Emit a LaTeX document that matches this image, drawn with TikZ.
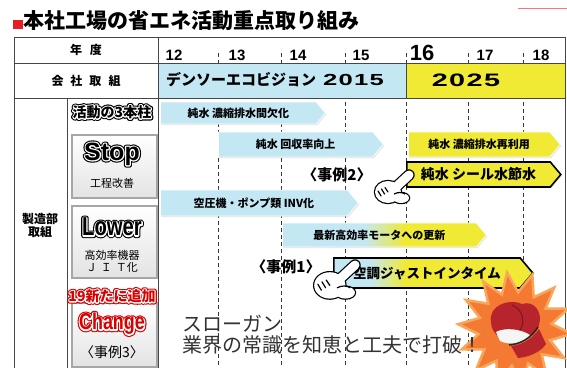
\documentclass[tikz,border=0pt]{standalone}
\usepackage{fontspec}
\setmainfont{Noto Sans CJK JP}
\newfontfamily\latin{Liberation Sans}
\newfontfamily\cond{Liberation Sans}[FakeStretch=0.78]
\newfontfamily\wide{Liberation Sans}[FakeStretch=1.6,LetterSpace=8]
\usetikzlibrary{shapes.symbols,shapes.geometric,shadows,calc}

\definecolor{lb}{RGB}{196,231,244}
\definecolor{yel}{RGB}{240,234,52}
\definecolor{framec}{RGB}{70,70,70}
\definecolor{dashc}{RGB}{55,55,55}
\definecolor{burst}{RGB}{244,122,52}
\definecolor{burstedge}{RGB}{249,165,90}
\definecolor{glove}{RGB}{184,36,44}
\definecolor{titred}{RGB}{228,30,36}
\definecolor{slog}{RGB}{50,50,50}

% blue-to-yellow fills for the two mixed bars
\pgfdeclarehorizontalshading{byA}{100bp}{color(0bp)=(lb); color(45bp)=(lb); color(55bp)=(yel); color(100bp)=(yel)}
\pgfdeclarehorizontalshading{byB}{100bp}{color(0bp)=(lb); color(34bp)=(lb); color(43bp)=(yel); color(100bp)=(yel)}

\tikzset{
  bar/.style={signal, signal to=east, signal pointer angle=100, anchor=west,
    inner sep=0pt, font=\fontsize{11}{11}\selectfont\bfseries,
    drop shadow={opacity=0.25, shadow xshift=1pt, shadow yshift=-1pt}},
  bluebar/.style={bar, fill=lb, draw=white, line width=0.8pt},
  yelbar/.style={bar, fill=yel, draw=white, line width=0.8pt},
  keybar/.style={bar, draw=black, line width=1.6pt, font=\fontsize{14}{14}\selectfont\bfseries},
  btn/.style={draw=gray!70, line width=1.6pt, top color=white, bottom color=gray!22,
    drop shadow={opacity=0.3, shadow xshift=1pt, shadow yshift=-1pt}},
  yearlbl/.style={anchor=base, font=\latin\bfseries\fontsize{15}{15}\selectfont},
  yearline/.style={dashc, dashed, dash pattern=on 4pt off 3pt, line width=0.7pt},
  frameline/.style={framec, line width=1pt},
  caselbl/.style={font=\bfseries\fontsize{15}{15}\selectfont},
  slogantext/.style={anchor=west, inner sep=0pt, font=\fontsize{20}{20}\selectfont, text=slog},
}

% stroked glyph outlines (fill + stroke rendering mode)
\newcommand\strokedtext[2]{\special{pdf:literal direct q 2 Tr #1 w 1 j}#2\special{pdf:literal direct Q}}

% text with a white ring and a coloured outer ring
\newcommand\ringtext[6]{%
  \node[font=#3, text=#5, inner sep=0pt] at (#2) {\strokedtext{4.6}{#6}};
  \node[font=#3, text=white, inner sep=0pt] at (#2) {\strokedtext{2.4}{#6}};
  \node[font=#3, text=#4, inner sep=0pt] (#1) at (#2) {#6};
}

% pointing glove, drawn with its top-left corner at #1
\newcommand\pointer[2]{%
  \begin{scope}[shift={(#1)}, scale=#2]
    \draw[black, line width=2.4pt, fill=white] (14,22) ellipse[x radius=13, y radius=11];
    \draw[black, line width=11.4pt, line cap=round] (22,17) -- (35,5);
    \draw[black, line width=2.4pt, fill=white] (27,28) ellipse[x radius=8, y radius=5];
    \fill[white] (14,22) ellipse[x radius=13, y radius=11];
    \draw[white, line width=9pt, line cap=round] (22,17) -- (35,5);
    \fill[white] (27,28) ellipse[x radius=8, y radius=5];
    \draw[black, line width=1.2pt] (20,24) .. controls (24,22) and (28,22) .. (31,24);
    \draw[black, line width=1.2pt, line cap=round] (4,21) -- (7,26) (7.5,19) -- (10.5,24) (11,17.5) -- (14,22);
  \end{scope}
}

\begin{document}
\begin{tikzpicture}[x=1pt, y=-1pt]
\useasboundingbox (0,0) rectangle (567,367);
\fill[white] (0,0) rectangle (567,367);

% title
\fill[titred] (13,19.5) rectangle (22.5,29);
\node[anchor=west, inner sep=0pt, font=\bfseries\fontsize{21}{21}\selectfont] (title) at (23,21)
  {本社工場の省エネ活動重点取り組み};
\draw[titred!60, line width=0.8pt] (518,8) -- (567,8);

% year grid lines
\foreach \gx in {218,281,345,406,468,523}
  \draw[yearline] (\gx,53) -- (\gx,367);

% company row
\fill[lb] (158,63) rectangle (406,98);
\fill[yel] (406,63) rectangle (565,98);

% table frame
\draw[frameline] (14,370) -- (14,37) -- (565,37) -- (565,370);
\draw[frameline] (14,63) -- (565,63);
\draw[frameline] (14,98) -- (565,98);
\draw[frameline] (158,37) -- (158,370);
\draw[frameline] (67,98) -- (67,370);
\draw[frameline] (406,63) -- (406,98);

% headers
\node[font=\bfseries\fontsize{12}{12}\selectfont] (hyear) at (86,50) {年\hspace{8pt}度};
\node[font=\bfseries\fontsize{12}{12}\selectfont] (hco) at (86,81) {会\hspace{7pt}社\hspace{7pt}取\hspace{7pt}組};
\node[font=\bfseries\fontsize{12}{13}\selectfont, align=center] (hmfg) at (40,225) {製造部\\取組};

% years
\node[yearlbl] (y12) at (174,60) {12};
\node[yearlbl] (y13) at (237,60) {13};
\node[yearlbl] (y14) at (298,60) {14};
\node[yearlbl] (y15) at (361,60) {15};
\node[yearlbl, font=\latin\bfseries\fontsize{22}{22}\selectfont] (y16) at (422,60) {16};
\node[yearlbl] (y17) at (485,60) {17};
\node[yearlbl] (y18) at (541,60) {18};

% company visions
\node[anchor=west, inner sep=0pt, font=\bfseries\fontsize{15}{15}\selectfont] (v2015) at (166,80)
  {デンソーエコビジョン\hspace{7pt}{\wide\bfseries\fontsize{16}{16}\selectfont 2015}};
\node[inner sep=0pt, font=\wide\bfseries\fontsize{18}{18}\selectfont] (v2025) at (466,80) {2025};

% three pillars
\ringtext{pillars}{112,112}{\bfseries\fontsize{14}{14}\selectfont}{black}{black}{活動の3本柱}

\node[btn, minimum width=85pt, minimum height=63pt, anchor=north west] (stopbtn) at (71,134) {};
\ringtext{stop}{112,154}{\latin\bfseries\fontsize{25}{25}\selectfont}{black}{black}{Stop}
\node[font=\fontsize{11}{11}\selectfont] (stopsub) at (112,183) {工程改善};

\node[btn, minimum width=85pt, minimum height=72pt, anchor=north west] (lowbtn) at (71,205) {};
\ringtext{lower}{112,227}{\cond\bfseries\fontsize{26}{26}\selectfont}{black}{black}{Lower}
\node[font=\fontsize{11}{12}\selectfont, align=center] (lowsub) at (112,261) {高効率機器\\Ｊ\hspace{4pt}Ｉ\hspace{4pt}Ｔ化};

\node[btn, minimum width=85pt, minimum height=64pt, anchor=north west] (chgbtn) at (71,302) {};
\ringtext{added}{112,296}{\bfseries\fontsize{14}{14}\selectfont}{red!85!black}{red!85!black}{19新たに追加}
\ringtext{change}{112,324}{\cond\bfseries\fontsize{23}{23}\selectfont}{red!85!black}{red!85!black}{Change}
\node[font=\fontsize{14}{14}\selectfont] (case3) at (112,352) {〈事例3〉};

% activity bars
\node[bluebar, minimum width=165pt, minimum height=22pt] (b1) at (160,113) {純水 濃縮排水間欠化};
\node[bluebar, minimum width=165pt, minimum height=25pt] (b2) at (218,144.5) {純水 回収率向上};
\node[yelbar, minimum width=152pt, minimum height=25pt] (b3) at (408,144.5) {純水 濃縮排水再利用};
\node[keybar, fill=yel, minimum width=154pt, minimum height=25pt] (b4) at (406,174.5) {純水 シール水節水};
\node[bluebar, minimum width=198pt, minimum height=26pt] (b5) at (160,203) {空圧機・ポンプ類 INV化};
\node[bar, shading=byA, draw=white, line width=0.8pt, minimum width=204pt, minimum height=24pt] (b6) at (282,235) {最新高効率モータへの更新};
\node[keybar, shading=byB, minimum width=199pt, minimum height=30pt, font=\fontsize{13.5}{13.5}\selectfont\bfseries] (b7) at (333,273) {空調ジャストインタイム};

% case labels and pointers
\node[caselbl] (case2) at (337,175) {〈事例2〉};
\node[caselbl] (case1) at (286,267) {〈事例1〉};
\pointer{374,170}{1}
\pointer{313,259}{1.2}

% burst with boxing glove
\node[star, star points=14, star point ratio=1.55, minimum size=114pt, fill=burst, draw=burstedge, line width=2.5pt, rotate=8] (burst) at (515,329) {};
\fill[glove] (491,322) .. controls (488,305) and (510,298) .. (522,304) .. controls (534,300) and (543,312) .. (539,325) .. controls (537,333) and (531,337) .. (526,338) -- (500,337) .. controls (494,334) and (491,328) .. (491,322) -- cycle;
\draw[glove!65!black, line width=1pt] (512,305) .. controls (524,310) and (526,324) .. (518,333);
\fill[white!92!gray] (496,332) .. controls (505,327) and (521,329) .. (530,335) .. controls (525,343) and (510,346) .. (500,341) -- cycle;
\fill[glove] (511,346) .. controls (522,345) and (532,339) .. (539,329) -- (546,344) .. controls (541,352) and (529,357) .. (518,358) -- cycle;
\draw[gray!30!black, line width=1.5pt] (509,345) .. controls (521,344) and (531,338) .. (538,327);

% slogan
\node[slogantext] (slogan1) at (182,324) {スローガン};
\node[slogantext] (slogan2) at (182,345) {業界の常識を知恵と工夫で打破！};
\end{tikzpicture}
\end{document}
